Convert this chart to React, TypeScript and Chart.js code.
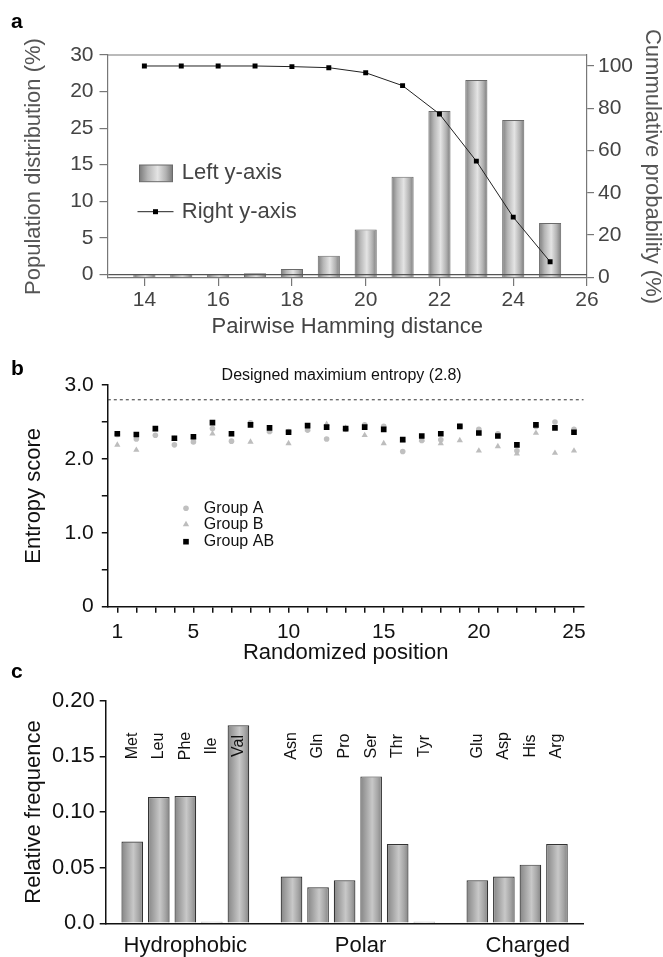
import React, { useEffect, useRef } from 'react';
import { Chart, registerables } from 'chart.js';

Chart.register(...registerables);

const FONT = '"Liberation Sans", Arial, Helvetica, sans-serif';

// ---------- Panel a ----------
const hammingDistance = [14, 15, 16, 17, 18, 19, 20, 21, 22, 23, 24, 25];
const populationPct = [0.05, 0.05, 0.05, 0.15, 0.72, 2.55, 6.15, 13.36, 22.34, 26.58, 21.1, 7.02];
const cumulativePct = [100, 100, 100, 100, 99.7, 99.2, 96.8, 90.7, 77.3, 55.0, 28.5, 7.4];
const hammingTicks = [14, 16, 18, 20, 22, 24, 26];
const leftTickValues = [0, 5, 10, 15, 20, 25, 30];
const leftTickLabels = ['0', '5', '10', '15', '25', '20', '30'];
const rightTickValues = [0, 20, 40, 60, 80, 100];
const legendA = ['Left y-axis', 'Right y-axis'];

// ---------- Panel b ----------
const positions = [1, 2, 3, 4, 5, 6, 7, 8, 9, 10, 11, 12, 13, 14, 15, 16, 17, 18, 19, 20, 21, 22, 23, 24, 25];
const groupA = [2.33, 2.27, 2.32, 2.19, 2.23, 2.41, 2.24, 2.49, 2.37, 2.37, 2.39, 2.27, 2.40, 2.46, 2.44, 2.10, 2.25, 2.26, 2.44, 2.40, 2.34, 2.11, 2.44, 2.50, 2.40];
const groupB = [2.19, 2.12, 2.40, 2.27, 2.29, 2.34, 2.33, 2.23, 2.38, 2.21, 2.40, 2.47, 2.42, 2.32, 2.21, 2.25, 2.26, 2.21, 2.25, 2.11, 2.17, 2.07, 2.35, 2.08, 2.11];
const groupAB = [2.34, 2.33, 2.41, 2.28, 2.30, 2.49, 2.34, 2.46, 2.42, 2.36, 2.45, 2.43, 2.41, 2.43, 2.40, 2.26, 2.31, 2.34, 2.44, 2.35, 2.31, 2.19, 2.46, 2.42, 2.36];
const labeledPositions = [1, 5, 10, 15, 20, 25];
const entropyTickValues = [0, 0.5, 1, 1.5, 2, 2.5, 3];
const entropyTickLabels = ['0', '', '1.0', '', '2.0', '', '3.0'];
const maxEntropy = 2.8;
const maxEntropyLabel = 'Designed maximium entropy (2.8)';
const groupNamesB = ['Group A', 'Group B', 'Group AB'];

// ---------- Panel c ----------
const aminoAcids = ['Met', 'Leu', 'Phe', 'Ile', 'Val', 'Asn', 'Gln', 'Pro', 'Ser', 'Thr', 'Tyr', 'Glu', 'Asp', 'His', 'Arg'];
const aminoSlots = [0, 1, 2, 3, 4, 6, 7, 8, 9, 10, 11, 13, 14, 15, 16];
const relativeFreq = [0.0734, 0.1135, 0.1144, 0.0015, 0.178, 0.042, 0.0323, 0.0386, 0.132, 0.0713, 0.0015, 0.0386, 0.042, 0.0527, 0.0713];
const classNames = ['Hydrophobic', 'Polar', 'Charged'];
const classLabelSlots = [2, 8.6, 14.9];
const freqTickValues = [0, 0.05, 0.1, 0.15, 0.2];
const freqTickLabels = ['0.0', '0.05', '0.10', '0.15', '0.20'];

const GRAD_A: [number, string][] = [[0, '#7c7c7c'], [0.25, '#b6b6b6'], [0.55, '#e4e4e4'], [0.8, '#b2b2b2'], [1, '#7a7a7a']];
const GRAD_C: [number, string][] = [[0, '#858585'], [0.3, '#a9a9a9'], [0.55, '#c8c8c8'], [0.8, '#a6a6a6'], [1, '#838383']];

function hGradient(c2d: CanvasRenderingContext2D, x0: number, x1: number, stops: [number, string][]) {
  const g = c2d.createLinearGradient(x0, 0, x1, 0);
  stops.forEach(([o, col]) => g.addColorStop(o, col));
  return g;
}

function barFill(stops: [number, string][], frac: number) {
  return (c: any) => {
    const chart = c.chart;
    const xs = chart.scales && chart.scales.x;
    if (!xs || !c.raw) return stops[2][1];
    const cx = xs.getPixelForValue(c.raw.x);
    const half = (frac / 2) * Math.abs(xs.getPixelForValue(1) - xs.getPixelForValue(0));
    if (!isFinite(cx) || !isFinite(half) || half <= 0) return stops[2][1];
    return hGradient(chart.ctx, cx - half, cx + half, stops);
  };
}

const font = (size: number, extra: any = {}) => ({ family: FONT, size, ...extra });

function configA(): any {
  const frameAndLegend = {
    id: 'frameAndLegendA',
    afterDraw(chart: any) {
      const { ctx, chartArea } = chart;
      const { left, top, right } = chartArea;
      ctx.save();
      ctx.strokeStyle = '#777';
      ctx.lineWidth = 1.2;
      ctx.beginPath();
      ctx.moveTo(left, top);
      ctx.lineTo(right, top);
      ctx.stroke();
      // legend: bar swatch
      const sx0 = left + 32, sx1 = left + 65, sy0 = top + 110, sy1 = top + 126.7;
      ctx.fillStyle = hGradient(ctx, sx0, sx1, GRAD_A);
      ctx.fillRect(sx0, sy0, sx1 - sx0, sy1 - sy0);
      ctx.strokeStyle = '#6a6a6a';
      ctx.lineWidth = 1;
      ctx.strokeRect(sx0, sy0, sx1 - sx0, sy1 - sy0);
      ctx.fillStyle = '#444';
      ctx.font = `22px ${FONT}`;
      ctx.textAlign = 'left';
      ctx.textBaseline = 'middle';
      ctx.fillText(legendA[0], left + 74.3, (sy0 + sy1) / 2);
      // line swatch
      const ly = top + 156.7;
      ctx.strokeStyle = '#222';
      ctx.lineWidth = 1;
      ctx.beginPath();
      ctx.moveTo(left + 30, ly);
      ctx.lineTo(left + 66, ly);
      ctx.stroke();
      ctx.fillStyle = '#000';
      ctx.fillRect(left + 48 - 2.5, ly - 2.5, 5, 5);
      ctx.fillStyle = '#444';
      ctx.fillText(legendA[1], left + 74.3, ly);
      ctx.restore();
    },
  };
  return {
    type: 'bar',
    data: {
      datasets: [
        {
          type: 'line',
          label: legendA[1],
          data: hammingDistance.map((x, i) => ({ x, y: cumulativePct[i] })),
          xAxisID: 'x',
          yAxisID: 'yR',
          borderColor: '#222',
          borderWidth: 1,
          pointStyle: 'rect',
          pointRadius: 3.5,
          pointBackgroundColor: '#000',
          pointBorderColor: '#000',
          pointBorderWidth: 0,
          tension: 0,
          order: 0,
        },
        {
          type: 'bar',
          label: legendA[0],
          data: hammingDistance.map((x, i) => ({ x, y: populationPct[i] })),
          xAxisID: 'x',
          yAxisID: 'yL',
          base: -0.5,
          barPercentage: 0.6,
          categoryPercentage: 1,
          borderColor: '#6a6a6a',
          borderWidth: 1,
          backgroundColor: barFill(GRAD_A, 0.6),
          order: 1,
        },
      ],
    },
    options: {
      responsive: false,
      animation: false,
      events: [],
      layout: { padding: { top: 55, left: 0, right: 0, bottom: 0 } },
      plugins: { legend: { display: false }, tooltip: { enabled: false } },
      scales: {
        x: {
          type: 'linear',
          position: 'bottom',
          offset: false,
          min: 13,
          max: 26,
          afterBuildTicks: (s: any) => { s.ticks = hammingTicks.map((v) => ({ value: v })); },
          afterFit: (s: any) => { s.height = 62; },
          grid: { offset: false, drawOnChartArea: false, tickLength: 8, tickColor: '#777', lineWidth: 1.2 },
          border: { color: '#777', width: 1.2, z: 1 },
          ticks: { font: font(21), color: '#444', padding: 2, maxRotation: 0, autoSkip: false },
          title: { display: true, text: 'Pairwise Hamming distance', font: font(22), color: '#444', padding: 0 },
        },
        yL: {
          type: 'linear',
          position: 'left',
          min: -0.5,
          max: 30,
          afterBuildTicks: (s: any) => { s.ticks = leftTickValues.map((v) => ({ value: v })); },
          afterFit: (s: any) => { s.width = 107.5; },
          ticks: { callback: (_v: any, i: number) => leftTickLabels[i], font: font(21), color: '#444', padding: 6 },
          grid: {
            drawOnChartArea: true,
            z: 1,
            color: (c: any) => (c.tick && c.tick.value === 0 ? '#555' : 'rgba(0,0,0,0)'),
            tickColor: '#777',
            tickLength: 8,
            lineWidth: 1.2,
          },
          border: { color: '#777', width: 1.2, z: 1 },
          title: { display: true, text: 'Population distribution (%)', font: font(22), color: '#555', padding: { top: 21, bottom: 0 } },
        },
        yR: {
          type: 'linear',
          position: 'right',
          min: -0.3,
          max: 105.2,
          afterBuildTicks: (s: any) => { s.ticks = rightTickValues.map((v) => ({ value: v })); },
          afterFit: (s: any) => { s.width = 76; },
          ticks: { font: font(21), color: '#444', padding: 4 },
          grid: { drawOnChartArea: false, tickLength: 7, tickColor: '#777', lineWidth: 1.2 },
          border: { color: '#777', width: 1.2 },
          title: { display: true, text: 'Cummulative probability (%)', font: font(22, { lineHeight: 1 }), color: '#555', padding: { top: 0, bottom: 0 } },
        },
      },
    },
    plugins: [frameAndLegend],
  };
}

function configB(): any {
  const overlay = {
    id: 'overlayB',
    afterDatasetsDraw(chart: any) {
      const { ctx, chartArea, scales } = chart;
      const { left, right, top } = chartArea;
      const y = scales.y.getPixelForValue(maxEntropy);
      ctx.save();
      ctx.strokeStyle = '#333';
      ctx.lineWidth = 1;
      ctx.setLineDash([3, 3]);
      ctx.beginPath();
      ctx.moveTo(left, y);
      ctx.lineTo(right, y);
      ctx.stroke();
      ctx.setLineDash([]);
      ctx.fillStyle = '#111';
      ctx.font = `16px ${FONT}`;
      ctx.textAlign = 'center';
      ctx.textBaseline = 'middle';
      ctx.fillText(maxEntropyLabel, (left + right) / 2 - 4, top - 9.3);
      // legend
      const mx = left + 78.2;
      const tx = left + 96;
      const rows = [top + 123.3, top + 139.3, top + 156.7];
      ctx.fillStyle = '#c0c0c0';
      ctx.beginPath();
      ctx.arc(mx, rows[0], 2.8, 0, Math.PI * 2);
      ctx.fill();
      ctx.fillStyle = '#bdbdbd';
      ctx.beginPath();
      ctx.moveTo(mx, rows[1] - 3.6);
      ctx.lineTo(mx + 3.2, rows[1] + 2.0);
      ctx.lineTo(mx - 3.2, rows[1] + 2.0);
      ctx.closePath();
      ctx.fill();
      ctx.fillStyle = '#000';
      ctx.fillRect(mx - 2.8, rows[2] - 2.8, 5.6, 5.6);
      ctx.fillStyle = '#111';
      ctx.textAlign = 'left';
      groupNamesB.forEach((n, i) => ctx.fillText(n, tx, rows[i]));
      ctx.restore();
    },
  };
  const pts = (vals: number[]) => positions.map((x, i) => ({ x, y: vals[i] }));
  return {
    type: 'scatter',
    data: {
      datasets: [
        { label: groupNamesB[2], data: pts(groupAB), pointStyle: 'rect', pointRadius: 4, pointBackgroundColor: '#000', backgroundColor: '#000', pointBorderWidth: 0, borderWidth: 0, order: 0 },
        { label: groupNamesB[1], data: pts(groupB), pointStyle: 'triangle', pointRadius: 3.6, pointBackgroundColor: '#bdbdbd', backgroundColor: '#bdbdbd', pointBorderWidth: 0, borderWidth: 0, order: 1 },
        { label: groupNamesB[0], data: pts(groupA), pointStyle: 'circle', pointRadius: 2.8, pointBackgroundColor: '#c0c0c0', backgroundColor: '#c0c0c0', pointBorderWidth: 0, borderWidth: 0, order: 2 },
      ],
    },
    options: {
      responsive: false,
      animation: false,
      events: [],
      layout: { padding: { top: 45, left: 0, right: 79.5, bottom: 0 } },
      plugins: { legend: { display: false }, tooltip: { enabled: false } },
      scales: {
        x: {
          type: 'linear',
          offset: false,
          min: 0.5,
          max: 25.5,
          afterBuildTicks: (s: any) => { s.ticks = positions.map((v) => ({ value: v })); },
          afterFit: (s: any) => { s.height = 68.3; },
          ticks: {
            callback: (v: any) => (labeledPositions.includes(v) ? String(v) : ''),
            font: font(21),
            color: '#111',
            padding: 7,
            maxRotation: 0,
            autoSkip: false,
          },
          grid: { drawOnChartArea: false, tickLength: 6, tickColor: '#111', lineWidth: 1.5 },
          border: { color: '#111', width: 1.5 },
          title: { display: true, text: 'Randomized position', font: font(22), color: '#111', padding: { top: 0, bottom: 8.8 } },
        },
        y: {
          type: 'linear',
          min: 0,
          max: 3,
          afterBuildTicks: (s: any) => { s.ticks = entropyTickValues.map((v) => ({ value: v })); },
          afterFit: (s: any) => { s.width = 107.8; },
          ticks: { callback: (_v: any, i: number) => entropyTickLabels[i], font: font(21), color: '#111', padding: 8 },
          grid: { drawOnChartArea: false, tickLength: 6, tickColor: '#111', lineWidth: 1.5 },
          border: { color: '#111', width: 1.5 },
          title: { display: true, text: 'Entropy score', font: font(22), color: '#111', padding: { top: 20.6, bottom: 0 } },
        },
      },
    },
    plugins: [overlay],
  };
}

function configC(): any {
  const labelsPlugin = {
    id: 'aminoLabels',
    afterDatasetsDraw(chart: any) {
      const { ctx, chartArea, scales } = chart;
      ctx.save();
      ctx.fillStyle = '#111';
      ctx.font = `16px ${FONT}`;
      ctx.textAlign = 'center';
      ctx.textBaseline = 'middle';
      aminoAcids.forEach((aa, i) => {
        const x = scales.x.getPixelForValue(aminoSlots[i]);
        ctx.save();
        ctx.translate(x, chartArea.top + 45.3);
        ctx.rotate(-Math.PI / 2);
        ctx.fillText(aa, 0, 0);
        ctx.restore();
      });
      ctx.restore();
    },
  };
  return {
    type: 'bar',
    data: {
      datasets: [
        {
          label: 'Relative frequence',
          data: aminoSlots.map((x, i) => ({ x, y: relativeFreq[i] })),
          barPercentage: 0.815,
          categoryPercentage: 1,
          borderColor: '#333',
          borderWidth: 1.2,
          backgroundColor: barFill(GRAD_C, 0.815),
        },
      ],
    },
    options: {
      responsive: false,
      animation: false,
      events: [],
      layout: { padding: { top: 40.7, left: 0, right: 79.5, bottom: 0 } },
      plugins: { legend: { display: false }, tooltip: { enabled: false } },
      scales: {
        x: {
          type: 'linear',
          offset: false,
          min: -1,
          max: 17,
          afterBuildTicks: (s: any) => { s.ticks = classLabelSlots.map((v) => ({ value: v })); },
          afterFit: (s: any) => { s.height = 33.7; },
          ticks: { callback: (_v: any, i: number) => classNames[i], font: font(22), color: '#111', padding: 9.5, maxRotation: 0, autoSkip: false },
          grid: { offset: false, drawOnChartArea: false, drawTicks: false },
          border: { color: '#111', width: 1.5, z: 1 },
        },
        y: {
          type: 'linear',
          min: 0,
          max: 0.2,
          afterBuildTicks: (s: any) => { s.ticks = freqTickValues.map((v) => ({ value: v })); },
          afterFit: (s: any) => { s.width = 105.7; },
          ticks: { callback: (_v: any, i: number) => freqTickLabels[i], font: font(22), color: '#111', padding: 5 },
          grid: { drawOnChartArea: false, tickLength: 6, tickColor: '#111', lineWidth: 1.5 },
          border: { color: '#111', width: 1.5 },
          title: { display: true, text: 'Relative frequence', font: font(22), color: '#111', padding: { top: 20.6, bottom: 0 } },
        },
      },
    },
    plugins: [labelsPlugin],
  };
}

function ChartCanvas({ top, height, make }: { top: number; height: number; make: () => any }) {
  const ref = useRef<HTMLCanvasElement | null>(null);
  useEffect(() => {
    if (!ref.current) return;
    const chart = new Chart(ref.current, make());
    return () => chart.destroy();
  }, []);
  return (
    <canvas
      ref={ref}
      width={663}
      height={height}
      style={{ position: 'absolute', left: 0, top, width: 663, height }}
    />
  );
}

const panelLetter = (t: string, top: number) => (
  <div
    style={{
      position: 'absolute',
      left: 11,
      top,
      font: `bold 21px ${FONT}`,
      lineHeight: '21px',
      color: '#000',
    }}
  >
    {t}
  </div>
);

export default function App() {
  return (
    <div style={{ position: 'absolute', left: 0, top: 0, width: 663, height: 957, background: '#fff', overflow: 'hidden' }}>
      <ChartCanvas top={0} height={340} make={configA} />
      <ChartCanvas top={660} height={297} make={configC} />
      <ChartCanvas top={340} height={335} make={configB} />
      {panelLetter('a', 10)}
      {panelLetter('b', 357)}
      {panelLetter('c', 660)}
    </div>
  );
}
